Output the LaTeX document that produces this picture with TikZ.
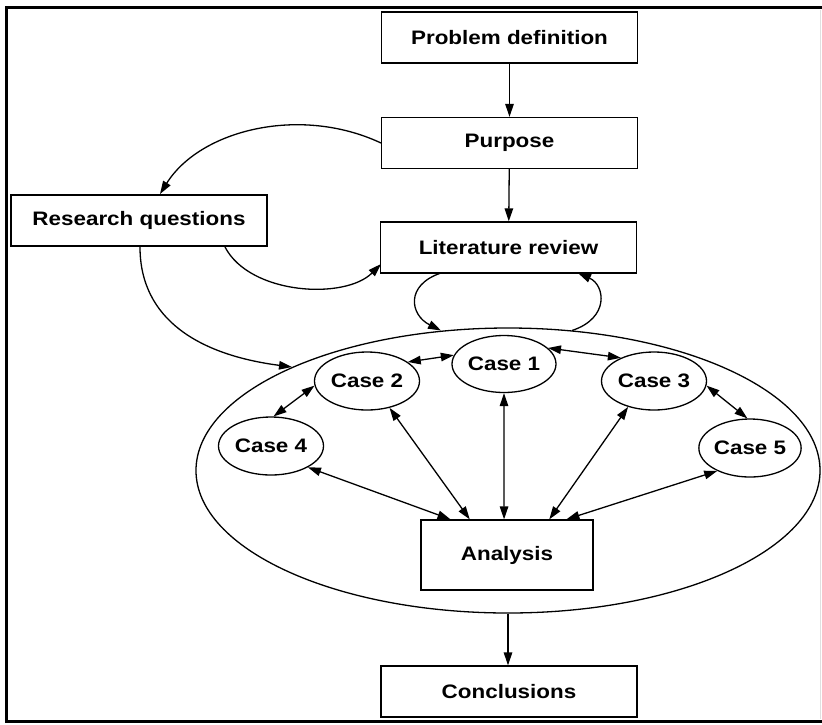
\documentclass[tikz,border=0pt]{standalone}
\usepackage{fontspec}
\setmainfont{Liberation Sans}[FakeStretch=1.15]
\usetikzlibrary{shapes.geometric,arrows.meta,calc}
\begin{document}
\begin{tikzpicture}[x=1pt,y=-1pt,
  line width=1.3pt,
  every node/.style={font=\fontsize{19.5}{22}\selectfont\bfseries, inner sep=0pt},
  box/.style={draw, rectangle, minimum width=256pt, minimum height=51pt},
  casenode/.style={draw, ellipse, minimum width=104pt, minimum height=57pt},
  arr/.style={-{Triangle[length=13pt,width=8.5pt]}},
  darr/.style={{Triangle[length=13pt,width=8.5pt]}-{Triangle[length=13pt,width=8.5pt]}},
  frame/.style={line width=3pt, line cap=rect}]
\useasboundingbox (0,0) rectangle (822,724);

% outer frame
\draw[frame] (6,721) -- (6,7.5) -- (822,7.5);
\draw[frame] (6,721) -- (822,721);
\draw[line width=0.5pt, black!12] (820.5,10) -- (820.5,719);

% boxes
\node[box] (pd) at (509.5,37.5) {Problem definition};
\node[box] (pu) at (509.5,143) {Purpose};
\node[box] (rq) at (139,220.5) {Research questions};
\node[box] (lr) at (508.5,247.5) {Literature review};
\node[box, minimum width=172pt, minimum height=70pt] (an) at (507,555) {Analysis};
\node[box] (co) at (509,691.5) {Conclusions};

% the multiple-case study
\node[draw, ellipse, minimum width=624pt, minimum height=285pt] (st) at (508,470.5) {};
\node[casenode] (c1) at (504,364) {Case 1};
\node[casenode, minimum width=105pt, minimum height=58pt] (c2) at (367,381) {Case 2};
\node[casenode, minimum width=105pt, minimum height=58pt] (c3) at (654,381) {Case 3};
\node[casenode, minimum width=105pt, minimum height=58pt] (c4) at (271,446) {Case 4};
\node[casenode, minimum width=101pt, minimum height=58pt] (c5) at (750,448) {Case 5};

% main flow
\draw[arr] (pd) -- (pu);
\draw[arr] (pu) -- (lr);
\coordinate (stb) at (st.south);
\draw[arr] (stb) -- (stb |- co.north);

% curved links
\coordinate (pu1) at (381,143);
\coordinate (rq1) at (160,194);
\draw[arr] (pu1) .. controls (300,105) and (200,130) .. (rq1);

\coordinate (rq2) at (225,247);
\coordinate (lr1) at (381,264);
\draw[arr] (rq2) .. controls (250,295) and (345,300) .. (lr1);

\coordinate (rq3) at (140,247);
\coordinate (st1) at (292,367);
\draw[arr] (rq3) .. controls (140,320) and (200,355) .. (st1);

\coordinate (lr2) at (441,273);
\coordinate (st2) at (441,330.5);
\draw[arr] (lr2) .. controls (405,285) and (410,315) .. (st2);

\coordinate (st3) at (572,330.5);
\coordinate (lr3) at (578,273);
\draw[arr] (st3) .. controls (610,318) and (605,285) .. (lr3);

% links between cases
\draw[darr] (c2.25) -- (c1.170);
\draw[darr] (c1.20) -- (c3.145);
\draw[darr] (c2.185) -- (c4.85);
\draw[darr] (c3.-5) -- (c5.95);

% links from cases to the analysis
\draw[darr] (c1.south) -- ($(an.north west)!0.483!(an.north east)$);
\draw[darr] (c2.-50) -- ($(an.north west)!0.285!(an.north east)$);
\draw[darr] (c3.225) -- ($(an.north west)!0.744!(an.north east)$);
\draw[darr] (c4.-30) -- ($(an.north west)!0.174!(an.north east)$);
\draw[darr] (c5.215) -- ($(an.north west)!0.843!(an.north east)$);
\end{tikzpicture}
\end{document}
